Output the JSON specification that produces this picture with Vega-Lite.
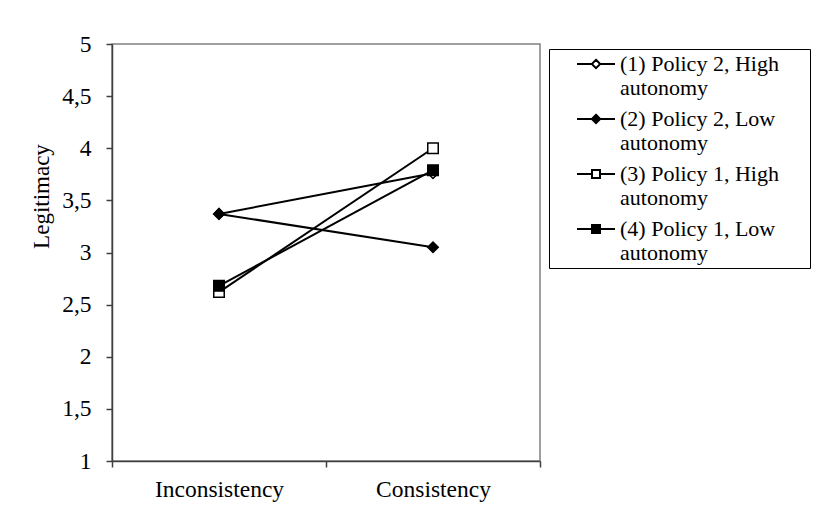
{
  "$schema": "https://vega.github.io/schema/vega-lite/v6.json",
  "autosize": "none",
  "padding": {"left": 112, "top": 44, "right": 276, "bottom": 66},
  "width": 428,
  "height": 417,
  "background": "white",
  "config": {
    "font": "Liberation Serif",
    "view": {"stroke": "#808080", "strokeWidth": 1.5},
    "axis": {"labelFont": "Liberation Serif", "titleFont": "Liberation Serif", "labelColor": "black", "titleColor": "black", "labelFontSize": 23.5, "titleFontSize": 23, "titleFontWeight": "normal", "domainColor": "#404040", "tickColor": "#404040", "domainWidth": 1.5, "tickWidth": 1.5, "grid": false}
  },
  "data": {
    "values": [
      {"series": "(1) Policy 2, High autonomy", "condition": "Inconsistency", "legitimacy": 3.37},
      {"series": "(1) Policy 2, High autonomy", "condition": "Consistency", "legitimacy": 3.76},
      {"series": "(2) Policy 2, Low autonomy", "condition": "Inconsistency", "legitimacy": 3.37},
      {"series": "(2) Policy 2, Low autonomy", "condition": "Consistency", "legitimacy": 3.05},
      {"series": "(3) Policy 1, High autonomy", "condition": "Inconsistency", "legitimacy": 2.62},
      {"series": "(3) Policy 1, High autonomy", "condition": "Consistency", "legitimacy": 4.0},
      {"series": "(4) Policy 1, Low autonomy", "condition": "Inconsistency", "legitimacy": 2.68},
      {"series": "(4) Policy 1, Low autonomy", "condition": "Consistency", "legitimacy": 3.79}
    ]
  },
  "encoding": {
    "x": {
      "field": "condition", "type": "nominal", "sort": ["Inconsistency", "Consistency"],
      "scale": {"type": "band", "paddingInner": 0, "paddingOuter": 0},
      "axis": {"title": null, "labelAngle": 0, "tickBand": "extent", "tickSize": 6, "labelPadding": 10}
    },
    "y": {
      "field": "legitimacy", "type": "quantitative",
      "scale": {"domain": [1, 5], "nice": false, "zero": false},
      "axis": {
        "title": "Legitimacy", "values": [1, 1.5, 2, 2.5, 3, 3.5, 4, 4.5, 5],
        "labelExpr": "replace(format(datum.value, '~g'), '.', ',')",
        "tickSize": 6, "labelPadding": 15,
        "titleAngle": 270, "titleAlign": "center", "titleBaseline": "alphabetic",
        "titleX": -64, "titleY": 152
      }
    }
  },
  "resolve": {"scale": {"shape": "independent", "fill": "independent", "stroke": "independent"}},
  "layer": [
    {
      "mark": {"type": "line", "color": "black", "strokeWidth": 2},
      "encoding": {"detail": {"field": "series"}}
    },
    {
      "mark": {"type": "point", "opacity": 0},
      "encoding": {
        "shape": {
          "field": "series", "type": "nominal",
          "scale": {"range": [
            "M-1.9,0L-0.42,0M0.42,0L1.9,0M0,-0.42L0.42,0L0,0.42L-0.42,0ZM20.6,0",
            "M-1.9,0L-0.42,0M0.42,0L1.9,0M0,-0.42L0.42,0L0,0.42L-0.42,0ZM20.6,0",
            "M-1.9,0L-0.4,0M0.4,0L1.9,0M-0.4,-0.4L0.4,-0.4L0.4,0.4L-0.4,0.4ZM20.6,0",
            "M-1.9,0L-0.4,0M0.4,0L1.9,0M-0.4,-0.4L0.4,-0.4L0.4,0.4L-0.4,0.4ZM20.6,0"
          ]},
          "legend": {
            "title": null, "orient": "none", "legendX": 437, "legendY": 5,
            "padding": 4, "symbolOffset": 32, "labelOffset": 13,
            "strokeColor": "black", "fillColor": "white",
            "symbolSize": 400, "symbolStrokeWidth": 2, "symbolOpacity": 1,
            "labelFont": "Liberation Serif", "labelFontSize": 22, "labelColor": "black", "labelLimit": 400,
            "labelExpr": "[replace(datum.label, ' autonomy', ''), 'autonomy']",
            "labelBaseline": "middle", "rowPadding": 9
          }
        },
        "fill": {
          "field": "series", "type": "nominal",
          "scale": {"range": ["white", "black", "white", "black"]},
          "legend": {
            "title": null, "orient": "none", "legendX": 437, "legendY": 5,
            "padding": 4, "symbolOffset": 32, "labelOffset": 13,
            "strokeColor": "black", "fillColor": "white",
            "symbolSize": 400, "symbolStrokeWidth": 2, "symbolOpacity": 1,
            "labelFont": "Liberation Serif", "labelFontSize": 22, "labelColor": "black", "labelLimit": 400,
            "labelExpr": "[replace(datum.label, ' autonomy', ''), 'autonomy']",
            "labelBaseline": "middle", "rowPadding": 9
          }
        },
        "stroke": {
          "field": "series", "type": "nominal",
          "scale": {"range": ["black", "black", "black", "black"]},
          "legend": {
            "title": null, "orient": "none", "legendX": 437, "legendY": 5,
            "padding": 4, "symbolOffset": 32, "labelOffset": 13,
            "strokeColor": "black", "fillColor": "white",
            "symbolSize": 400, "symbolStrokeWidth": 2, "symbolOpacity": 1,
            "labelFont": "Liberation Serif", "labelFontSize": 22, "labelColor": "black", "labelLimit": 400,
            "labelExpr": "[replace(datum.label, ' autonomy', ''), 'autonomy']",
            "labelBaseline": "middle", "rowPadding": 9
          }
        }
      }
    },
    {
      "mark": {"type": "point", "stroke": "black", "strokeWidth": 1.5, "opacity": 1, "size": 110},
      "encoding": {
        "shape": {
          "field": "series", "type": "nominal",
          "scale": {"range": ["diamond", "diamond", "square", "square"]},
          "legend": null
        },
        "fill": {
          "field": "series", "type": "nominal",
          "scale": {"range": ["white", "black", "white", "black"]},
          "legend": null
        }
      }
    }
  ]
}
